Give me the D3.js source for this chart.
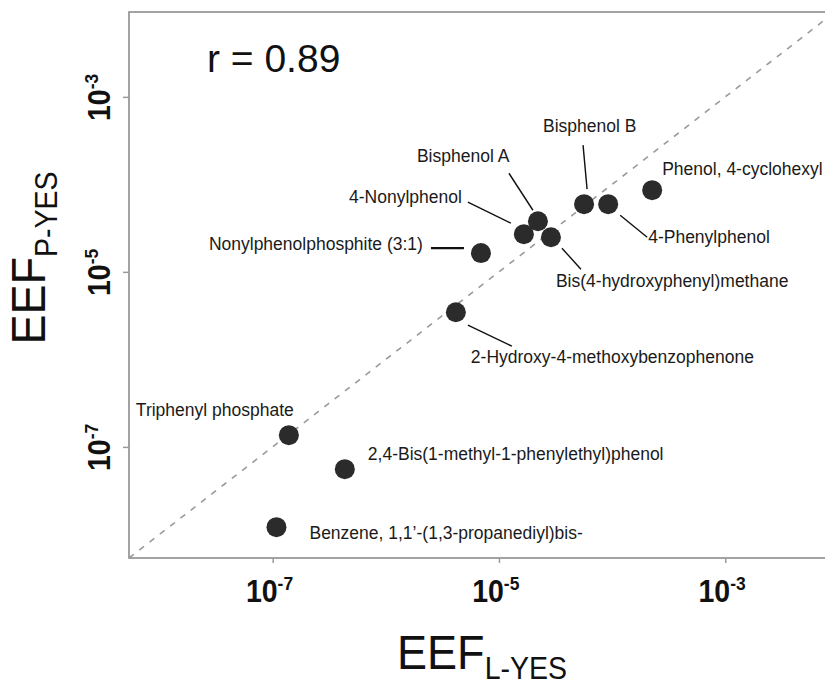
<!DOCTYPE html>
<html>
<head>
<meta charset="utf-8">
<script src="https://cdn.jsdelivr.net/npm/d3@7"></script>
<style>
  html, body { margin: 0; padding: 0; background: #fff; }
  svg { display: block; font-family: "Liberation Sans", Arial, Helvetica, sans-serif; }
</style>
</head>
<body>
<svg id="chart" width="825" height="682"></svg>
<script>
// chemicals and their estrogenic equivalency factors
const names = [
  'Benzene, 1,1\u2019-(1,3-propanediyl)bis-',
  'Triphenyl phosphate',
  '2,4-Bis(1-methyl-1-phenylethyl)phenol',
  '2-Hydroxy-4-methoxybenzophenone',
  'Nonylphenolphosphite (3:1)',
  '4-Nonylphenol',
  'Bisphenol A',
  'Bis(4-hydroxyphenyl)methane',
  'Bisphenol B',
  '4-Phenylphenol',
  'Phenol, 4-cyclohexyl'
];
const eefL = [1.08e-7, 1.39e-7, 4.34e-7, 4.16e-6, 6.93e-6, 1.66e-5, 2.21e-5, 2.88e-5, 5.65e-5, 9.23e-5, 2.26e-4];
const eefP = [1.21e-8, 1.36e-7, 5.56e-8, 3.46e-6, 1.64e-5, 2.70e-5, 3.79e-5, 2.49e-5, 5.94e-5, 5.94e-5, 8.59e-5];
const xTicks = [1e-7, 1e-5, 1e-3];
const yTicks = [1e-3, 1e-5, 1e-7];
const rValue = '0.89';

// label placement relative to each point: [dx, dy, anchor, leader or null]
const labelLayout = [
  [33, 12, 'start', null],
  [-153, -19, 'start', null],
  [23, -9, 'start', null],
  [15, 51, 'start', [12, 13, 56, 34]],
  [-58, -3, 'end', [-50, -5, -17, -5]],
  [-62, -31, 'end', [-56, -32, -13, -11]],
  [-121, -59, 'start', [-29, -48, -5, -11]],
  [5, 50, 'start', [11, 11, 30, 32]],
  [-41, -72, 'start', [-1, -59, 3, -15]],
  [40, 39, 'start', [12, 11, 39, 33]],
  [10, -15, 'start', null]
];

const svg = d3.select('#chart');
const lo = Math.pow(10, -8.27), hi = Math.pow(10, -2.03);
const x = d3.scaleLog().domain([lo, hi]).range([129, 835]);
const y = d3.scaleLog().domain([lo, hi]).range([558, 12]);

// frame
svg.append('rect')
  .attr('x', x.range()[0]).attr('y', y.range()[1])
  .attr('width', x.range()[1] - x.range()[0])
  .attr('height', y.range()[0] - y.range()[1])
  .attr('fill', 'none').attr('stroke', '#8c8c8c').attr('stroke-width', 1.6);

// 1:1 line
svg.append('line')
  .attr('x1', x(lo)).attr('y1', y(lo))
  .attr('x2', x(hi)).attr('y2', y(hi))
  .attr('stroke', '#9a9a9a').attr('stroke-width', 1.6)
  .attr('stroke-dasharray', '6,7');

// axes
const xAxis = svg.append('g')
  .attr('transform', `translate(0,${y.range()[0]})`)
  .call(d3.axisBottom(x).tickValues(xTicks).tickSize(5).tickSizeOuter(0).tickFormat(''));
const yAxis = svg.append('g')
  .attr('transform', `translate(${x.range()[0]},0)`)
  .call(d3.axisLeft(y).tickValues(yTicks).tickSize(6).tickSizeOuter(0).tickFormat(''));
[xAxis, yAxis].forEach(function(g) {
  g.select('.domain').remove();
  g.selectAll('.tick line').attr('stroke', '#9a9a9a').attr('stroke-width', 1.5);
});

function powLabel(sel, v) {
  let e = Math.round(Math.log10(v));
  sel.append('tspan').text('10');
  sel.append('tspan').attr('font-size', 19).attr('dy', -12).text(e);
}

xAxis.selectAll('.tick').append('text')
  .attr('x', -4).attr('y', 44)
  .attr('text-anchor', 'middle')
  .attr('fill', '#111').attr('font-size', 31).attr('font-weight', 'bold')
  .attr('transform', 'scale(0.92,1)')
  .each(function(d) { powLabel(d3.select(this), d); });

yAxis.selectAll('.tick').append('text')
  .attr('transform', 'translate(-19,0) rotate(-90) scale(0.92,1)')
  .attr('text-anchor', 'middle')
  .attr('fill', '#111').attr('font-size', 31).attr('font-weight', 'bold')
  .each(function(d) { powLabel(d3.select(this), d); });

// axis titles
const xTitle = svg.append('text')
  .attr('transform', 'translate(482,669) scale(0.92,1)')
  .attr('text-anchor', 'middle')
  .attr('fill', '#111').attr('font-size', 49);
xTitle.append('tspan').text('EEF');
xTitle.append('tspan').attr('font-size', 31).attr('dy', 10).text('L-YES');

const yTitle = svg.append('text')
  .attr('transform', 'translate(45,258) rotate(-90) scale(0.92,1)')
  .attr('text-anchor', 'middle')
  .attr('fill', '#111').attr('font-size', 49);
yTitle.append('tspan').text('EEF');
yTitle.append('tspan').attr('font-size', 31).attr('dy', 12).text('P-YES');

// correlation
svg.append('text')
  .attr('x', 207).attr('y', 72)
  .attr('fill', '#111').attr('font-size', 39)
  .text('r = ' + rValue);

// points
const pts = names.map((n, i) => ({name: n, cx: x(eefL[i]), cy: y(eefP[i]), lay: labelLayout[i]}));

svg.append('g').selectAll('line')
  .data(pts.filter(p => p.lay[3]))
  .enter().append('line')
  .attr('x1', p => p.cx + p.lay[3][0]).attr('y1', p => p.cy + p.lay[3][1])
  .attr('x2', p => p.cx + p.lay[3][2]).attr('y2', p => p.cy + p.lay[3][3])
  .attr('stroke', '#111')
  .attr('stroke-width', p => p.lay[3][1] === p.lay[3][3] ? 2.4 : 1.4);

svg.append('g').selectAll('circle')
  .data(pts)
  .enter().append('circle')
  .attr('cx', p => p.cx).attr('cy', p => p.cy)
  .attr('r', 10)
  .attr('fill', '#2b2b2b');

svg.append('g').selectAll('text')
  .data(pts)
  .enter().append('text')
  .attr('x', p => p.cx + p.lay[0]).attr('y', p => p.cy + p.lay[1])
  .attr('text-anchor', p => p.lay[2])
  .attr('fill', '#1a1a1a').attr('font-size', 17.5)
  .text(p => p.name);
</script>
</body>
</html>
